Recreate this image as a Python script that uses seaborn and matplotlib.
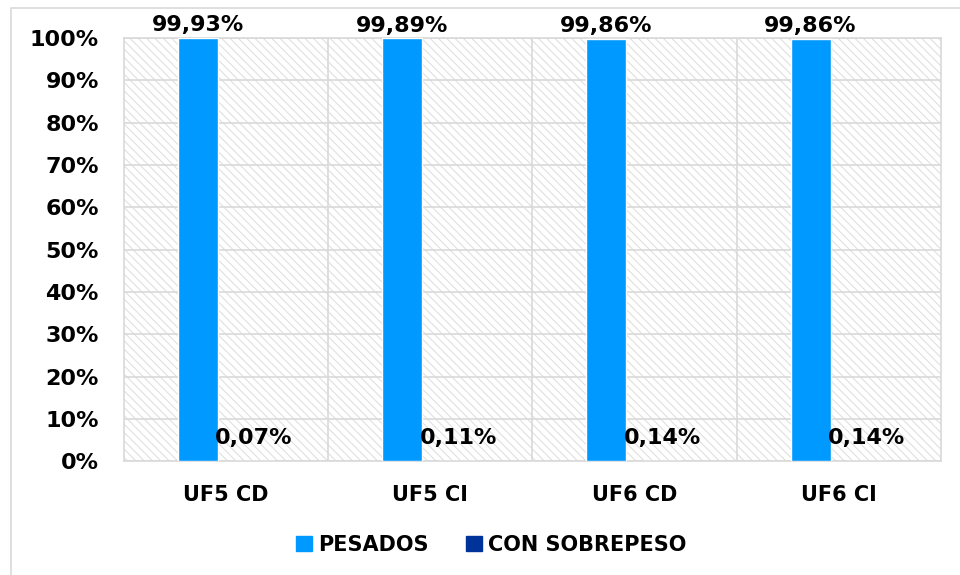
import matplotlib
matplotlib.use("Agg")
import matplotlib.pyplot as plt
from matplotlib.patches import Rectangle
from matplotlib.ticker import FuncFormatter
import pandas as pd
import seaborn as sns

# data
categories = ["UF5 CD", "UF5 CI", "UF6 CD", "UF6 CI"]
series = ["PESADOS", "CON SOBREPESO"]
pesados = [99.93, 99.89, 99.86, 99.86]
sobrepeso = [0.07, 0.11, 0.14, 0.14]
colors = ["#0099FF", "#003399"]

df = pd.DataFrame({
    "cat": categories * 2,
    "serie": [series[0]] * 4 + [series[1]] * 4,
    "valor": pesados + sobrepeso,
})

sns.set_style("white")
plt.rcParams["font.family"] = ["DejaVu Sans"]
plt.rcParams["text.color"] = "black"
plt.rcParams["xtick.color"] = "black"
plt.rcParams["ytick.color"] = "black"
plt.rcParams["hatch.color"] = "#DCDCDC"
plt.rcParams["hatch.linewidth"] = 0.7

fig = plt.figure(figsize=(9.6, 5.75), dpi=100)
ax = fig.add_axes([0.129, 0.198, 0.851, 0.736])

# hatched plot background
ax.add_patch(Rectangle((0, 0), 1, 1, transform=ax.transAxes, facecolor="white",
                       edgecolor="#DCDCDC", hatch="\\\\\\\\", linewidth=0, zorder=0))

sns.barplot(data=df, x="cat", y="valor", hue="serie", palette=colors,
            width=0.55, gap=0.29, saturation=1, ax=ax, legend=False, zorder=3)

# data labels
for cont, pad in zip(ax.containers, [2, 9]):
    ax.bar_label(cont, labels=[f"{v:.2f}%".replace(".", ",") for v in cont.datavalues],
                 padding=pad, fontsize=16, fontweight="bold", color="black", zorder=5)

ax.set_ylim(0, 100)
ax.set_xlim(-0.5, 3.5)
ax.set_yticks(range(0, 101, 10))
ax.yaxis.set_major_formatter(FuncFormatter(lambda v, p: f"{v:.0f}%"))
ax.set_xticks(range(4), categories)
ax.set_xticks([0.5, 1.5, 2.5], minor=True)
ax.tick_params(axis="y", length=0, pad=18, labelsize=16, labelcolor="black")
ax.tick_params(axis="x", which="both", length=0, pad=17, labelsize=15, labelcolor="black")
for lab in ax.get_xticklabels() + ax.get_yticklabels():
    lab.set_fontweight("bold")
ax.set_xlabel("")
ax.set_ylabel("")

ax.set_axisbelow(True)
ax.yaxis.grid(True, color="#D9D9D9", linewidth=1.2)
ax.xaxis.grid(True, which="minor", color="#D9D9D9", linewidth=1.2)
for s in ax.spines.values():
    s.set_color("#D9D9D9")
    s.set_linewidth(1.2)

# legend under the chart
handles = [Rectangle((0, 0), 1, 1, color=c) for c in colors]
leg = fig.legend(handles, series, loc="center", bbox_to_anchor=(0.512, 0.052), ncol=2,
                 frameon=False, handlelength=0.75, handleheight=0.75, handletextpad=0.3,
                 columnspacing=1.8, prop={"weight": "bold", "size": 15})
for t in leg.get_texts():
    t.set_color("black")

# outer chart border
fig.patches.append(Rectangle((0.011, -0.05), 1.1, 1.036, transform=fig.transFigure,
                             fill=False, edgecolor="#D9D9D9", linewidth=1.2))

fig.savefig("out.png", dpi=100)
